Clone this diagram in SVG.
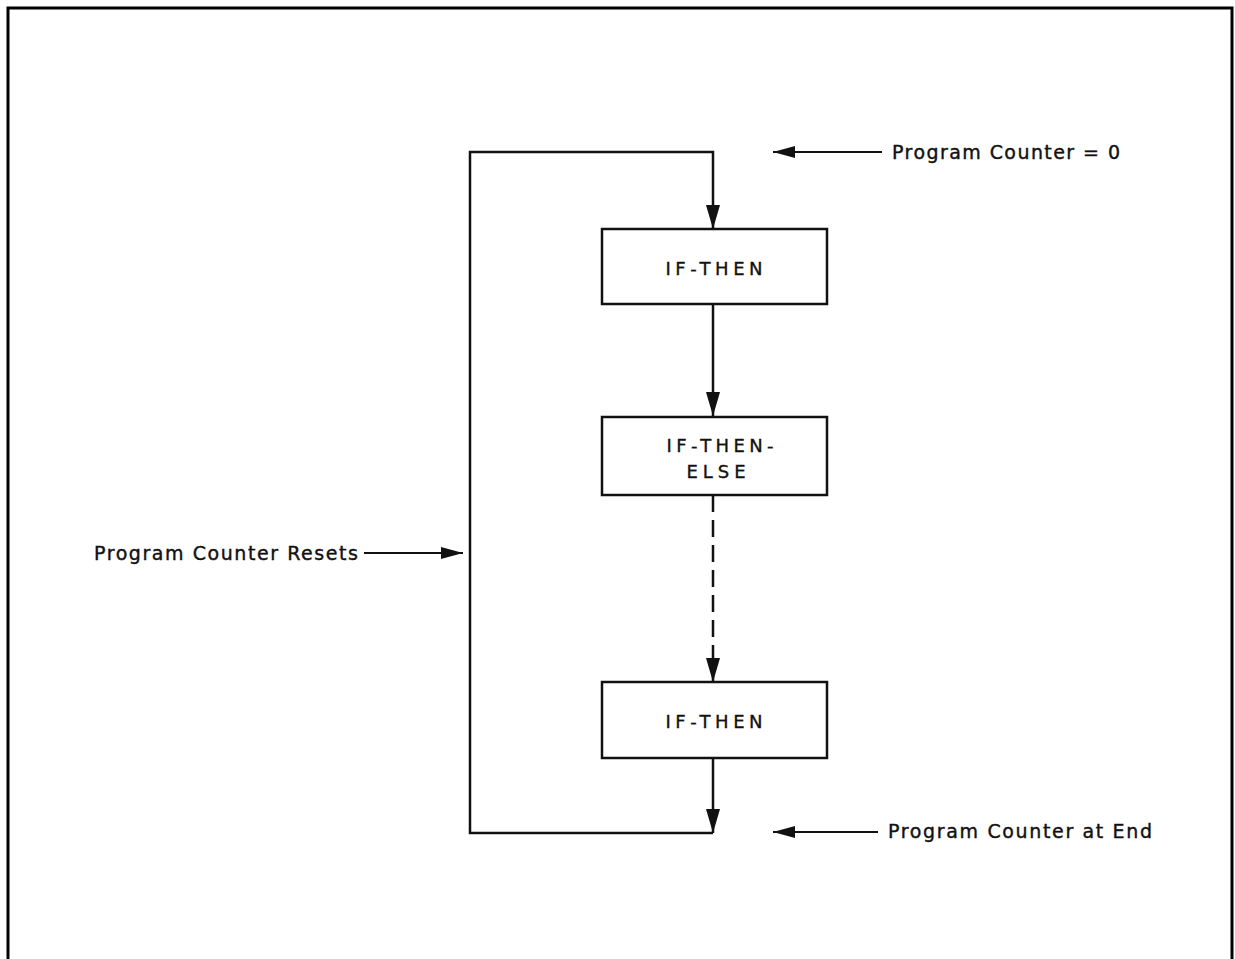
<svg xmlns="http://www.w3.org/2000/svg" width="1235" height="959" viewBox="0 0 1235 959">
<style>
.frame{fill:none;stroke:#000;stroke-width:3}
.box{fill:#fff;stroke:#111;stroke-width:2.5}
.line{fill:none;stroke:#111;stroke-width:2.5}
.dash{stroke-dasharray:17 8}
.thin{fill:none;stroke:#111;stroke-width:1.8}
.t{font-family:"DejaVu Sans","Liberation Sans",sans-serif;font-size:19px;fill:#111;stroke:#111;stroke-width:0.4}
.bt{font-family:"DejaVu Sans","Liberation Sans",sans-serif;font-size:18px;fill:#111;text-anchor:middle;stroke:#111;stroke-width:0.35}
</style>
<defs>
<marker id="ah" markerUnits="userSpaceOnUse" markerWidth="26" markerHeight="16" refX="24" refY="7" orient="auto">
<path d="M0,0 L24,7 L0,14 z" fill="#111"/>
</marker>
<marker id="lh" markerUnits="userSpaceOnUse" markerWidth="24" markerHeight="14" refX="22" refY="6" orient="auto">
<path d="M0,0 L22,6 L0,12 z" fill="#111"/>
</marker>
</defs>
<rect width="1235" height="959" fill="#fff"/>
<path class="frame" d="M8,970 V8 H1232 V970"/>
<g id="connectors">
<path class="line" d="M713,758 V833" marker-end="url(#ah)"/>
<path class="line" d="M713,833 H470 V152 H713 V229" marker-end="url(#ah)"/>
<path class="line" d="M713,304 V416" marker-end="url(#ah)"/>
<path class="line dash" d="M713,495 V682" marker-end="url(#ah)"/>
<path class="thin" d="M882,152 H773" marker-end="url(#lh)"/>
<path class="thin" d="M364,553 H463" marker-end="url(#lh)"/>
<path class="thin" d="M878,832 H773" marker-end="url(#lh)"/>
</g>
<g id="node-ifthen1">
<rect class="box" x="602" y="229" width="225" height="75"/>
<text class="bt" x="714" y="275" textLength="97" lengthAdjust="spacing">IF-THEN</text>
</g>
<g id="node-ifthenelse">
<rect class="box" x="602" y="417" width="225" height="78"/>
<text class="bt" x="720" y="452" textLength="107" lengthAdjust="spacing">IF-THEN-</text>
<text class="bt" x="716" y="478" textLength="59" lengthAdjust="spacing">ELSE</text>
</g>
<g id="node-ifthen2">
<rect class="box" x="602" y="682" width="225" height="76"/>
<text class="bt" x="714" y="728" textLength="97" lengthAdjust="spacing">IF-THEN</text>
</g>
<g id="labels">
<text class="t" x="892" y="159" textLength="228" lengthAdjust="spacing">Program Counter = 0</text>
<text class="t" x="94" y="560" textLength="264" lengthAdjust="spacing">Program Counter Resets</text>
<text class="t" x="888" y="838" textLength="264" lengthAdjust="spacing">Program Counter at End</text>
</g>
</svg>
